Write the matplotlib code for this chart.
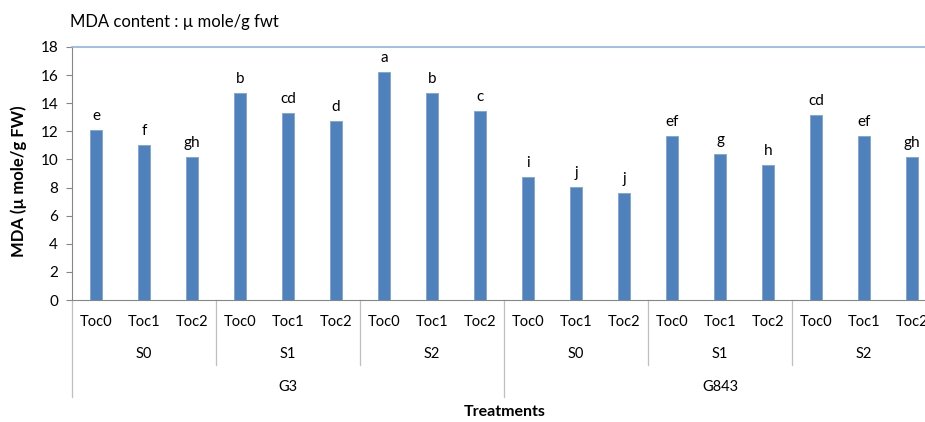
import matplotlib.pyplot as plt
import matplotlib.transforms as mtransforms
import numpy as np

# data
genotypes = ['G3', 'G843']
salts = ['S0', 'S1', 'S2']
tocs = ['Toc0', 'Toc1', 'Toc2']
mda = [12.1, 11.05, 10.15,   # G3 S0
       14.75, 13.3, 12.75,   # G3 S1
       16.25, 14.7, 13.45,   # G3 S2
       8.75, 8.05, 7.6,      # G843 S0
       11.7, 10.4, 9.6,      # G843 S1
       13.15, 11.65, 10.15]  # G843 S2
letters = ['e', 'f', 'gh', 'b', 'cd', 'd', 'a', 'b', 'c',
           'i', 'j', 'j', 'ef', 'g', 'h', 'cd', 'ef', 'gh']

plt.rcParams['font.family'] = ['Lato', 'DejaVu Sans']

fig = plt.figure(figsize=(9.25, 4.22), dpi=100)
# plot area runs past the right edge, like the cropped original
ax = fig.add_axes([72/925, 122/422, 864/925, 253/422])

x = np.arange(len(mda))
bars = ax.bar(x, mda, width=0.23, color='#4F81BD', edgecolor='#7FA3D3', linewidth=0.6)

for xi, v, lab in zip(x, mda, letters):
    ax.annotate(lab, (xi, v), xytext=(0, 5), textcoords='offset points',
                ha='center', va='bottom', fontsize=11)

ax.set_xlim(-0.5, len(mda) - 0.5)
ax.set_ylim(0, 18)
ax.set_yticks(range(0, 19, 2))
ax.tick_params(axis='y', labelsize=11, length=4, color='#868686', pad=6)
ax.set_xticks([])

for s in ['left', 'bottom']:
    ax.spines[s].set_color('#868686')
ax.spines['right'].set_visible(False)
ax.spines['top'].set_color('#8EB4E3')
ax.spines['top'].set_linewidth(1.2)

ax.set_ylabel('MDA (µ mole/g FW)', fontsize=12, fontweight='bold')
ax.yaxis.set_label_coords(-0.052, 0.47)

# multi-level category axis
trans = mtransforms.blended_transform_factory(ax.transData, ax.transAxes)
for xi in x:
    ax.text(xi, -0.087, tocs[xi % 3], transform=trans, ha='center', va='center', fontsize=10.5)
for k in range(len(genotypes) * len(salts)):
    ax.text(3 * k + 1, -0.213, salts[k % 3], transform=trans, ha='center', va='center', fontsize=10.5)
for g, name in enumerate(genotypes):
    ax.text(9 * g + 4, -0.344, name, transform=trans, ha='center', va='center', fontsize=10.5)

for k in range(1, 6):
    xb = 3 * k - 0.5
    yb = -0.383 if k == 3 else -0.257
    ax.plot([xb, xb], [0, yb], transform=trans, color='#BFBFBF', lw=0.9, clip_on=False)
ax.plot([-0.5, -0.5], [0, -0.383], transform=trans, color='#BFBFBF', lw=0.9, clip_on=False)

fig.text(505/925, 1 - 412/422, 'Treatments', ha='center', va='center',
         fontsize=11.5, fontweight='bold')
fig.text(70/925, 1 - 22/422, 'MDA content : µ mole/g fwt', ha='left', va='center', fontsize=12)

fig.savefig('out.png', dpi=100)
